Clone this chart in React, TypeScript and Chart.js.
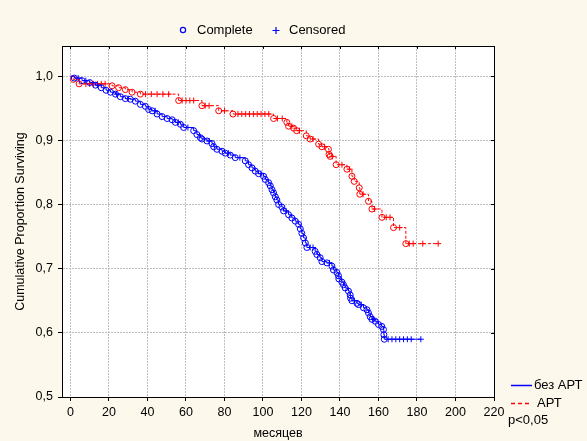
import React, { useEffect, useRef } from "react";
import { Chart, registerables } from "chart.js";
Chart.register(...registerables);

const xTickValues = [0, 20, 40, 60, 80, 100, 120, 140, 160, 180, 200, 220];
const yTickValues = [0.5, 0.6, 0.7, 0.8, 0.9, 1.0];

const seriesLabels = ["без АРТ", "АРТ"];
const markerLabels = ["Complete", "Censored"];
const pLabel = "p<0,05";
const xTitle = "месяцев";
const yTitle = "Cumulative Proportion Surviving";

// без АРТ (blue) – event times and survival after each event
const blueEventT = [2, 6, 10, 13, 16, 18.5, 20.8, 23.4, 25.9, 28.5, 31.1, 33.7, 36.3, 38.9, 40.6, 42.4, 45, 47.6, 50.2, 52.8, 54.5, 57.1, 58.8,
  64, 65.7, 67.5, 68.3, 70.9, 73.5, 74.4, 76.1, 78.7, 80.4, 83, 85.6, 90.8, 92.5, 94.3, 96, 97.7,
  100.3, 101.2, 102.9, 103.8, 104.7, 105.5, 106.4, 107.2, 108.1, 109.8, 110.7, 113.3, 115, 116.8, 118.5,
  119.4, 120.2, 121.1, 122, 122.8, 127.1, 128, 129.7, 130.6, 133.2, 135.8, 136.6, 138.4, 139.2, 139.4, 141, 141.8, 142.7,
  144.4, 145.3, 145.5, 146.2, 148.8, 149.6, 152.2, 154, 154.8, 155.7, 156.6, 158.3, 160, 161.7, 162.6, 162.8, 163];
const blueEventS = [0.997, 0.993, 0.99, 0.986, 0.982, 0.978, 0.975, 0.972, 0.968, 0.965, 0.964, 0.961, 0.956, 0.953, 0.948, 0.946, 0.941, 0.937, 0.934, 0.932, 0.928, 0.925, 0.92,
  0.915, 0.909, 0.904, 0.902, 0.899, 0.895, 0.89, 0.886, 0.883, 0.88, 0.877, 0.873, 0.868, 0.862, 0.857, 0.852, 0.848,
  0.844, 0.839, 0.834, 0.829, 0.823, 0.818, 0.812, 0.807, 0.8, 0.796, 0.79, 0.784, 0.779, 0.774, 0.769,
  0.762, 0.755, 0.748, 0.74, 0.733, 0.727, 0.722, 0.717, 0.711, 0.709, 0.704, 0.698, 0.694, 0.689, 0.684, 0.679, 0.675, 0.67,
  0.665, 0.659, 0.654, 0.65, 0.646, 0.644, 0.639, 0.636, 0.631, 0.625, 0.621, 0.618, 0.613, 0.61, 0.605, 0.597, 0.59];
const blueCensorT = [4, 8, 14, 24, 30, 44, 56, 61, 72, 82, 88, 99, 112, 124.5, 126, 134.5, 147.5, 151, 157.5,
  165, 167, 169, 171, 173, 175, 177, 182];

// АРТ (red)
const redEventT = [1.5, 4.5, 21.6, 25, 28.5, 32, 36.3, 56.2, 68.3, 77, 84.4, 105.5, 112.4, 113.3, 115.9, 117.5, 122.5, 124.5,
  128.9, 130.6, 134, 134.3, 134.9, 138, 143.6, 146.2, 147.4, 150, 150.3, 154.8, 156.6, 161.8, 167.8, 174.2];
const redEventS = [0.995, 0.988, 0.985, 0.982, 0.979, 0.975, 0.972, 0.962, 0.954, 0.946, 0.941, 0.934, 0.928, 0.922, 0.919, 0.915, 0.907, 0.902,
  0.894, 0.89, 0.886, 0.878, 0.875, 0.862, 0.855, 0.844, 0.836, 0.826, 0.816, 0.805, 0.793, 0.78, 0.764, 0.739];
const redCensorT = [8, 10, 12, 14, 16, 18, 39, 42, 45, 48, 51, 58, 60, 62, 64, 70, 72, 80, 87, 89, 91, 93, 95, 97, 99, 101, 103,
  107.5, 110, 115, 119, 126, 132, 136, 141, 145, 152, 158, 164, 166, 171, 176, 178, 183, 191];

const BLUE = "#0000ff";
const RED = "#ff0000";
const CREAM = "#fdf8ec";
const FONT = "'Liberation Sans', Arial, sans-serif";

function survAt(t: number, T: number[], S: number[]) {
  let v = 1;
  for (let i = 0; i < T.length; i++) if (T[i] <= t) v = S[i];
  return v;
}
function events(T: number[], S: number[]) {
  return T.map((t, i) => ({ x: t, y: S[i] }));
}
function censors(C: number[], T: number[], S: number[]) {
  return C.map((t) => ({ x: t, y: survAt(t, T, S) }));
}
function stepLine(T: number[], S: number[], C: number[]) {
  const pts = [{ x: 0, y: 1 }, ...events(T, S)];
  const end = Math.max(...C, ...T);
  pts.push({ x: end, y: survAt(end, T, S) });
  return pts;
}

const decor = {
  id: "decor",
  beforeDraw(chart: any) {
    const { ctx, chartArea: a } = chart;
    ctx.save();
    ctx.fillStyle = CREAM;
    ctx.fillRect(0, 0, chart.width, chart.height);
    ctx.fillStyle = "#ffffff";
    ctx.fillRect(a.left, a.top, a.right - a.left, a.bottom - a.top);
    ctx.restore();
  },
  afterDraw(chart: any) {
    const { ctx, chartArea: a } = chart;
    const xs = chart.scales.x;
    const ys = chart.scales.y;
    ctx.save();
    ctx.strokeStyle = "#000";
    ctx.lineWidth = 1;
    ctx.strokeRect(Math.round(a.left) + 0.5, Math.round(a.top) + 0.5, Math.round(a.right - a.left), Math.round(a.bottom - a.top));
    ctx.beginPath();
    xTickValues.forEach((v) => {
      const px = Math.round(xs.getPixelForValue(v)) + 0.5;
      ctx.moveTo(px, a.top);
      ctx.lineTo(px, a.top + 3);
    });
    yTickValues.forEach((v) => {
      const py = Math.round(ys.getPixelForValue(v)) + 0.5;
      ctx.moveTo(a.right, py);
      ctx.lineTo(a.right - 3, py);
    });
    ctx.stroke();

    // top legend
    ctx.font = `13px ${FONT}`;
    ctx.fillStyle = "#000";
    ctx.textBaseline = "middle";
    ctx.textAlign = "left";
    ctx.strokeStyle = BLUE;
    ctx.lineWidth = 1.2;
    ctx.beginPath();
    ctx.arc(183, 30, 2.6, 0, Math.PI * 2);
    ctx.stroke();
    ctx.fillText(markerLabels[0], 197, 30);
    ctx.beginPath();
    ctx.moveTo(272.5, 30.5);
    ctx.lineTo(279.5, 30.5);
    ctx.moveTo(276, 27);
    ctx.lineTo(276, 34);
    ctx.stroke();
    ctx.fillText(markerLabels[1], 289, 30);

    // bottom-right legend
    ctx.lineWidth = 1.5;
    ctx.strokeStyle = BLUE;
    ctx.beginPath();
    ctx.moveTo(511, 385.5);
    ctx.lineTo(532, 385.5);
    ctx.stroke();
    ctx.fillText(seriesLabels[0], 534, 385);
    ctx.strokeStyle = RED;
    ctx.setLineDash([4, 3]);
    ctx.beginPath();
    ctx.moveTo(511, 403.5);
    ctx.lineTo(532, 403.5);
    ctx.stroke();
    ctx.setLineDash([]);
    ctx.fillText(seriesLabels[1], 537, 403);
    ctx.fillText(pLabel, 508, 420);
    ctx.restore();
  },
};

export default function App() {
  const ref = useRef<HTMLCanvasElement | null>(null);
  useEffect(() => {
    if (!ref.current) return;
    Chart.defaults.font.family = FONT;
    Chart.defaults.font.size = 12;
    Chart.defaults.color = "#000";
    const chart = new Chart(ref.current, {
      type: "scatter",
      data: {
        datasets: [
          {
            label: seriesLabels[0],
            data: stepLine(blueEventT, blueEventS, blueCensorT),
            showLine: true,
            stepped: true,
            borderColor: BLUE,
            borderWidth: 1,
            pointRadius: 0,
          },
          {
            label: seriesLabels[1],
            data: stepLine(redEventT, redEventS, redCensorT),
            showLine: true,
            stepped: true,
            borderColor: RED,
            borderWidth: 1,
            borderDash: [3, 2],
            pointRadius: 0,
          },
          {
            label: markerLabels[0] + " " + seriesLabels[0],
            data: events(blueEventT, blueEventS),
            pointStyle: "circle",
            pointRadius: 3,
            borderColor: BLUE,
            backgroundColor: "rgba(0,0,0,0)",
            pointBorderWidth: 1,
          },
          {
            label: markerLabels[0] + " " + seriesLabels[1],
            data: events(redEventT, redEventS),
            pointStyle: "circle",
            pointRadius: 3,
            borderColor: RED,
            backgroundColor: "rgba(0,0,0,0)",
            pointBorderWidth: 1,
          },
          {
            label: markerLabels[1] + " " + seriesLabels[0],
            data: censors(blueCensorT, blueEventT, blueEventS),
            pointStyle: "cross",
            pointRadius: 3,
            borderColor: BLUE,
            pointBorderWidth: 1,
          },
          {
            label: markerLabels[1] + " " + seriesLabels[1],
            data: censors(redCensorT, redEventT, redEventS),
            pointStyle: "cross",
            pointRadius: 3,
            borderColor: RED,
            pointBorderWidth: 1,
          },
        ] as any,
      },
      options: {
        animation: false,
        responsive: false,
        devicePixelRatio: 1,
        layout: { padding: { top: 46, right: 93, left: 0, bottom: 0 } },
        plugins: { legend: { display: false }, tooltip: { enabled: false }, title: { display: false } },
        scales: {
          x: {
            type: "linear",
            min: -4.4,
            max: 220,
            afterBuildTicks: (s: any) => {
              s.ticks = xTickValues.map((v) => ({ value: v }));
            },
            afterFit: (s: any) => {
              s.height = 44;
            },
            ticks: { padding: 4, maxRotation: 0, autoSkip: false, callback: (v: any) => String(v), font: { size: 12.5 } },
            grid: { color: "#bdbdbd", lineWidth: 1, tickLength: 4, tickColor: "#000", tickBorderDash: [] },
            border: { display: true, color: "#000", width: 1, dash: [2, 1] },
            title: { display: true, text: xTitle, padding: { top: 0, bottom: 0 }, font: { size: 12.5 } },
          },
          y: {
            type: "linear",
            min: 0.5,
            max: 1.047,
            afterBuildTicks: (s: any) => {
              s.ticks = yTickValues.map((v) => ({ value: v }));
            },
            afterFit: (s: any) => {
              s.width = 62;
            },
            ticks: { padding: 5, autoSkip: false, callback: (v: any) => Number(v).toFixed(1).replace(".", ","), font: { size: 12.5 } },
            grid: { color: "#bdbdbd", lineWidth: 1, tickLength: 4, tickColor: "#000", tickBorderDash: [] },
            border: { display: true, color: "#000", width: 1, dash: [2, 1] },
            title: { display: true, text: yTitle, padding: { top: 13, bottom: 0 }, font: { size: 12.5 } },
          },
        },
      },
      plugins: [decor],
    } as any);
    return () => chart.destroy();
  }, []);
  return (
    <div style={{ position: "absolute", left: 0, top: 0, width: 587, height: 441 }}>
      <canvas ref={ref} width={587} height={441} style={{ display: "block", width: 587, height: 441 }} />
    </div>
  );
}
